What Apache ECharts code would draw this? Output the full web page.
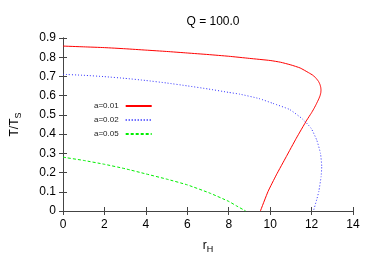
<!DOCTYPE html>
<html><head><meta charset="utf-8">
<script src="https://cdn.jsdelivr.net/npm/echarts@6/dist/echarts.min.js"></script>
<style>html,body{margin:0;padding:0;background:#fff}#c{width:374px;height:262px}</style>
</head><body><div id="c"></div>
<script>
var titleText = 'Q = 100.0';
var seriesNames = ['a=0.01', 'a=0.02', 'a=0.05'];
var redR = [0, 1, 2, 3, 4, 5, 6, 7, 8, 9, 10, 10.5, 11, 11.45, 11.85, 12.08, 12.22, 12.33, 12.4, 12.44, 12.455, 12.445, 12.41, 12.355, 12.29, 12.2, 12.1, 11.98, 11.77, 11.26, 10.78, 10.3, 9.9, 9.53];
var redT = [0.858, 0.854, 0.85, 0.844, 0.837, 0.83, 0.822, 0.814, 0.805, 0.794, 0.783, 0.774, 0.76, 0.744, 0.72, 0.705, 0.69, 0.675, 0.66, 0.645, 0.63, 0.615, 0.6, 0.585, 0.57, 0.55, 0.53, 0.508, 0.473, 0.378, 0.283, 0.188, 0.102, 0];
var blueR = [0, 1, 2, 3, 4, 5, 6, 7, 8, 8.53, 9.46, 10.13, 10.94, 11.58, 11.98, 12.25, 12.43, 12.49, 12.46, 12.35, 12.25, 12.09];
var blueT = [0.711, 0.706, 0.699, 0.69, 0.679, 0.666, 0.651, 0.635, 0.617, 0.608, 0.585, 0.56, 0.528, 0.477, 0.43, 0.369, 0.3, 0.231, 0.179, 0.102, 0.06, 0];
var greenR = [0, 1, 2, 3, 4, 5, 6, 7.09, 8, 8.37, 8.82];
var greenT = [0.28, 0.263, 0.243, 0.22, 0.193, 0.166, 0.136, 0.093, 0.05, 0.027, 0];

function pairs(xs, ys) { return xs.map(function (x, i) { return [x, ys[i]]; }); }

var font = 'Liberation Sans, Arial, sans-serif';
var axisCommon = {
  axisLine: { show: true, lineStyle: { color: '#444', width: 1 } },
  axisTick: { show: true, inside: true, length: 4, lineStyle: { color: '#444' } },
  splitLine: { show: false }
};
function ax(base, extra) { return Object.assign({}, axisCommon, base, extra); }

var chart = echarts.init(document.getElementById('c'), null, { renderer: 'canvas' });
chart.setOption({
  animation: false,
  backgroundColor: '#fff',
  title: { text: titleText, left: 208, top: 11, textAlign: 'center',
    textStyle: { fontFamily: font, fontSize: 12, fontWeight: 'normal', color: '#000' } },
  grid: { left: 63, right: 21, top: 38, bottom: 51 },
  legend: {
    orient: 'vertical', left: 89, top: 97, align: 'right', itemWidth: 26, itemHeight: 8, itemGap: 6,
    itemStyle: { opacity: 0 },
    textStyle: { fontFamily: font, fontSize: 8, color: '#222', padding: [0, 2, 0, 0] },
    data: seriesNames
  },
  xAxis: [
    ax({ type: 'value', min: 0, max: 14, interval: 2, position: 'bottom',
      name: '{a|r}{s|H}', nameLocation: 'middle', nameGap: 27,
      nameTextStyle: { rich: { a: { fontFamily: font, fontSize: 12, color: '#000' },
        s: { fontFamily: font, fontSize: 9, color: '#000', padding: [7, 0, 0, 0] } } },
      axisLabel: { fontFamily: font, fontSize: 12, color: '#000', margin: 8 } }),
    ax({ type: 'value', min: 0, max: 14, interval: 2, position: 'top', axisLabel: { show: false } })
  ],
  yAxis: [
    ax({ type: 'value', min: 0, max: 0.9, interval: 0.1, position: 'left',
      name: '{a|T/T}{s|S}', nameLocation: 'middle', nameGap: 40, nameRotate: 90,
      nameTextStyle: { rich: { a: { fontFamily: font, fontSize: 12, color: '#000' },
        s: { fontFamily: font, fontSize: 9, color: '#000', padding: [7, 0, 0, 0] } } },
      axisLabel: { fontFamily: font, fontSize: 12, color: '#000', margin: 7,
        formatter: function (v) { return v === 0 ? '0' : v.toFixed(1); } } }),
    ax({ type: 'value', min: 0, max: 0.9, interval: 0.1, position: 'right', axisLabel: { show: false } })
  ],
  series: [
    { name: seriesNames[0], type: 'line', data: pairs(redR, redT), symbol: 'none', smooth: 0.15,
      lineStyle: { color: '#ff0000', width: 1 }, itemStyle: { color: '#ff0000' } },
    { name: seriesNames[1], type: 'line', data: pairs(blueR, blueT), symbol: 'none', smooth: 0.15,
      lineStyle: { color: '#3333ff', width: 1, type: [1, 2] }, itemStyle: { color: '#3333ff' } },
    { name: seriesNames[2], type: 'line', data: pairs(greenR, greenT), symbol: 'none', smooth: 0.15,
      lineStyle: { color: '#00ee00', width: 1, type: [3, 2] }, itemStyle: { color: '#00ee00' } }
  ]
});
</script></body></html>
